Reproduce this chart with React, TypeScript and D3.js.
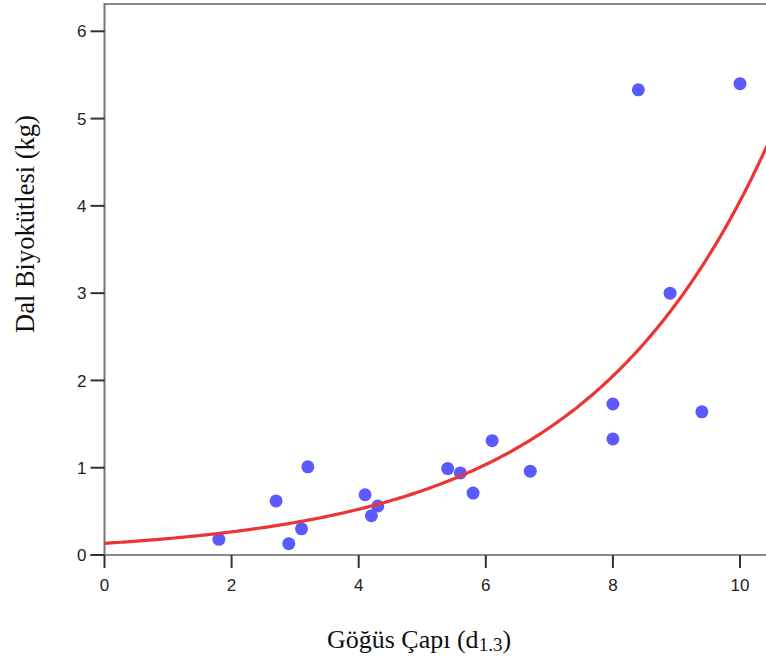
import React from "react";
import * as d3 from "d3";

const diameters = [1.8, 2.7, 2.9, 3.1, 3.2, 4.1, 4.2, 4.3, 5.4, 5.6, 5.8, 6.1, 6.7, 8.0, 8.0, 8.4, 8.9, 9.4, 10.0];
const biomass = [0.18, 0.62, 0.13, 0.30, 1.01, 0.69, 0.45, 0.56, 0.99, 0.94, 0.71, 1.31, 0.96, 1.33, 1.73, 5.33, 3.00, 1.64, 5.40];
const xTicks = [0, 2, 4, 6, 8, 10];
const yTicks = [0, 1, 2, 3, 4, 5, 6];
// exponential fit y = A * exp(B * x)
const FIT_A = 0.134;
const FIT_B = 0.341;

const W = 766;
const H = 666;

export default function App() {
  const x = d3.scaleLinear().domain([0, 10]).range([104.5, 740]);
  const y = d3.scaleLinear().domain([0, 6]).range([555, 31.3]);
  const xMax = x.invert(W + 5);
  const fitPts: [number, number][] = d3.range(0, xMax + 0.05, 0.05).map((v) => [v, FIT_A * Math.exp(FIT_B * v)]);
  const line = d3
    .line<[number, number]>()
    .x((d) => x(d[0]))
    .y((d) => y(d[1]))
    .curve(d3.curveLinear);
  const topY = 4;
  const sans = "'Liberation Sans', Arial, sans-serif";
  const serif = "'Liberation Serif', 'Times New Roman', serif";
  return (
    <svg
      width={W}
      height={H}
      style={{ position: "absolute", left: 0, top: 0, display: "block", background: "#fff" }}
    >
      <rect x={0} y={0} width={W} height={H} fill="#fff" />
      {/* top frame */}
      <line x1={x(0)} x2={W} y1={topY} y2={topY} stroke="#8a8a8a" strokeWidth={2} />
      {/* axes */}
      <line x1={x(0)} x2={x(0)} y1={topY - 1} y2={y(0)} stroke="#777" strokeWidth={2} />
      <line x1={x(0) - 14} x2={W} y1={y(0)} y2={y(0)} stroke="#8a8a8a" strokeWidth={2} />
      {yTicks.map((t) => (
        <g key={"y" + t}>
          <line x1={x(0) - 14} x2={x(0)} y1={y(t)} y2={y(t)} stroke="#333" strokeWidth={2} />
          <text
            x={x(0) - 18}
            y={y(t)}
            dy="0.36em"
            textAnchor="end"
            fontFamily={sans}
            fontSize={17}
            fill="#222"
          >
            {t}
          </text>
        </g>
      ))}
      {xTicks.map((t) => (
        <g key={"x" + t}>
          <line x1={x(t)} x2={x(t)} y1={y(0)} y2={y(0) + 13} stroke="#333" strokeWidth={2} />
          <text x={x(t)} y={591} textAnchor="middle" fontFamily={sans} fontSize={17} fill="#222">
            {t}
          </text>
        </g>
      ))}
      {/* points */}
      {diameters.map((d, i) => (
        <circle key={"p" + i} cx={x(d)} cy={y(biomass[i])} r={6.5} fill="#5a5aff" />
      ))}
      {/* fit curve */}
      <path d={line(fitPts) || ""} fill="none" stroke="#ec3434" strokeWidth={3.2} />
      {/* axis titles */}
      <text x={419} y={648} textAnchor="middle" fontFamily={serif} fontSize={26} fill="#111">
        Göğüs Çapı (d
        <tspan fontSize={19} dy={3}>1.3</tspan>
        <tspan dy={-3}>)</tspan>
      </text>
      <text
        transform={`translate(34, 224) rotate(-90)`}
        textAnchor="middle"
        fontFamily={serif}
        fontSize={26.5}
        fill="#111"
      >
        Dal Biyokütlesi (kg)
      </text>
    </svg>
  );
}
